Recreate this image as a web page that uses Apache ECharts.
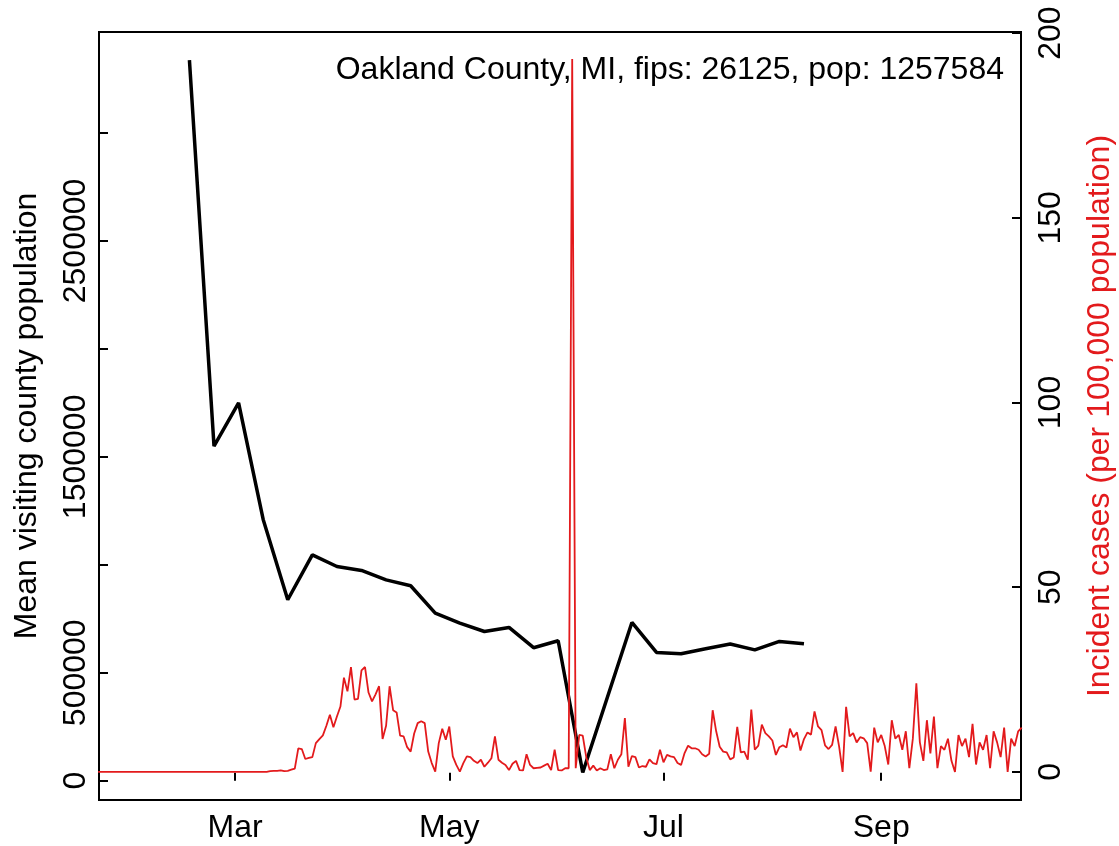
<!DOCTYPE html>
<html>
<head>
<meta charset="utf-8">
<script src="https://cdn.jsdelivr.net/npm/echarts@6/dist/echarts.min.js"></script>
<style>
  html, body { margin: 0; padding: 0; background: #fff; }
  #main { width: 1119px; height: 846px; }
</style>
</head>
<body>
<div id="main"></div>
<script>
// 每周平均来访人口 (左轴)
var visitDates = ['2020-02-17', '2020-02-24', '2020-03-02', '2020-03-09', '2020-03-16', '2020-03-23',
  '2020-03-30', '2020-04-06', '2020-04-13', '2020-04-20', '2020-04-27', '2020-05-04', '2020-05-11',
  '2020-05-18', '2020-05-25', '2020-06-01', '2020-06-08', '2020-06-22', '2020-06-29', '2020-07-06',
  '2020-07-13', '2020-07-20', '2020-07-27', '2020-08-03', '2020-08-10'];
var visitValues = [3338000, 1550000, 1750000, 1210000, 838000, 1046000,
  992000, 974000, 930000, 903000, 776000, 730000, 691000,
  710000, 616000, 648000, 38000, 733000, 594000, 588000,
  611000, 633000, 606000, 645000, 634000];

// 每日新增病例 (每10万人, 右轴), 从 2020-01-22 开始
var caseStart = '2020-01-22';
var caseValues = [
  0, 0, 0, 0, 0, 0, 0, 0, 0, 0, 0, 0, 0, 0, 0, 0, 0, 0, 0, 0,
  0, 0, 0, 0, 0, 0, 0, 0, 0, 0, 0, 0, 0, 0, 0, 0, 0, 0, 0,
  0, 0, 0, 0, 0, 0, 0, 0, 0, 0,
  0.2, 0.3, 0.3, 0.4, 0.2, 0.3, 0.6, 0.9, 6.4, 6.2,
  3.5, 3.8, 4.0, 7.8, 8.9, 9.9, 12.5, 15.5, 12.1, 15.0,
  17.7, 25.5, 21.8, 28.4, 19.6, 19.8, 27.5, 28.4, 21.5, 19.1,
  21.0, 23.2, 8.9, 12.5, 23.2, 16.7, 16.1, 9.8, 9.6, 6.7,
  5.5, 10.4, 13.2, 13.7, 13.2, 5.5, 2.4, 0.1, 7.8, 11.7,
  8.7, 12.3, 4.2, 1.9, 0.1, 2.4, 4.2, 4.0, 3.0, 2.4,
  3.3, 1.4, 2.5, 3.7, 9.6, 3.3, 2.5, 1.9, 0.5, 2.2,
  3.0, 0.5, 0.4, 4.8, 1.9, 1.0, 1.1, 1.2, 1.7, 2.2,
  0.5, 6.0, 0.5, 0.4, 1.0, 1.0, 193, 1.0, 10.0, 9.8,
  4.0, 0.5, 1.7, 0.4, 1.0, 0.5, 0.7, 4.8, 1.0, 3.3,
  4.8, 14.6, 1.4, 4.3, 4.0, 1.2, 1.6, 1.4, 3.4, 2.4,
  2.1, 6.0, 2.6, 4.6, 4.2, 4.0, 2.4, 1.9, 5.1, 7.1,
  6.4, 6.4, 6.0, 4.8, 4.2, 4.9, 16.7, 11.0, 6.8, 5.5,
  5.3, 3.4, 3.9, 12.2, 5.3, 5.5, 3.3, 16.9, 6.0, 7.1,
  12.8, 10.5, 9.6, 8.5, 4.6, 6.7, 7.2, 6.6, 11.7, 9.4,
  10.7, 5.8, 8.9, 10.7, 10.1, 16.4, 12.3, 11.3, 7.2, 6.2,
  7.3, 12.3, 6.9, 0, 17.6, 9.6, 10.5, 8.0, 9.4, 9.1,
  7.8, 0.1, 12, 8, 10, 7, 2, 14, 9, 10,
  6, 11, 1, 9, 24, 8, 3, 14, 5, 15,
  1, 7, 6, 9, 3, 0, 10, 7, 9, 4,
  13, 2, 8, 6, 10, 1, 11, 8, 4, 12,
  0, 9, 7, 11, 12
];

var monthTicks = ['2020-03-01', '2020-05-01', '2020-07-01', '2020-09-01'];
var monthLabels = ['Mar', 'May', 'Jul', 'Sep'];
var leftTicks = [0, 500000, 1000000, 1500000, 2000000, 2500000, 3000000];
var leftLabels = [0, 500000, 1500000, 2500000];
var rightTicks = [0, 50, 100, 150, 200];

var DAY = 24 * 3600 * 1000;
function toTime(s) {
  var p = s.split('-');
  return Date.UTC(+p[0], +p[1] - 1, +p[2]);
}

var visitData = visitDates.map(function (d, i) { return [toTime(d), visitValues[i]]; });
var t0 = toTime(caseStart);
var caseData = caseValues.map(function (v, i) { return [t0 + i * DAY, v]; });
var monthTimes = monthTicks.map(toTime);

var xMin = toTime('2020-01-22') + 0.25 * DAY;
var xMax = toTime('2020-10-10') + 0.8 * DAY;

var red = '#e31a1c';
var font = 'Liberation Sans, Arial, sans-serif';
var fs = 32;

var myChart = echarts.init(document.getElementById('main'));

var option = {
  animation: false,
  grid: {
    left: 99, right: 98, top: 32, bottom: 46,
    outerBoundsMode: 'none',
    show: true, borderColor: '#000', borderWidth: 2, backgroundColor: 'transparent'
  },
  xAxis: {
    type: 'value',
    min: xMin,
    max: xMax,
    axisLine: { show: false },
    splitLine: { show: false },
    axisTick: { show: true, inside: true, length: 8, customValues: monthTimes,
      lineStyle: { color: '#000', width: 2 } },
    axisLabel: {
      customValues: monthTimes,
      margin: 12,
      color: '#000', fontSize: fs, fontFamily: font,
      formatter: function (val) {
        var i = monthTimes.indexOf(val);
        return i >= 0 ? monthLabels[i] : '';
      }
    }
  },
  yAxis: [{
    type: 'value',
    position: 'left',
    min: -89400,
    max: 3467800,
    name: 'Mean visiting county population',
    nameLocation: 'middle',
    nameRotate: 90,
    nameGap: 56,
    nameTextStyle: { color: '#000', fontSize: fs, fontFamily: font },
    axisLine: { show: false },
    splitLine: { show: false },
    axisTick: { show: true, inside: true, length: 9, customValues: leftTicks,
      lineStyle: { color: '#000', width: 2 } },
    axisLabel: { customValues: leftLabels, rotate: 90, margin: 7,
      color: '#000', fontSize: fs, fontFamily: font,
      formatter: function (v) { return String(v); } }
  }, {
    type: 'value',
    position: 'right',
    min: -7.6,
    max: 200.3,
    name: 'Incident cases (per 100,000 population)',
    nameLocation: 'middle',
    nameRotate: 90,
    nameGap: 63,
    nameTextStyle: { color: red, fontSize: fs, fontFamily: font },
    axisLine: { show: false },
    splitLine: { show: false },
    axisTick: { show: true, inside: true, length: 9, customValues: rightTicks,
      lineStyle: { color: '#000', width: 2 } },
    axisLabel: { customValues: rightTicks, rotate: 90, margin: 14,
      color: '#000', fontSize: fs, fontFamily: font }
  }],
  graphic: [{
    type: 'text',
    right: 1119 - 1004,
    top: 54,
    style: {
      text: 'Oakland County, MI, fips: 26125, pop: 1257584',
      fill: '#000', fontSize: fs, fontFamily: font
    }
  }],
  series: [{
    name: 'visits',
    type: 'line',
    yAxisIndex: 0,
    data: visitData,
    showSymbol: false,
    lineStyle: { color: '#000', width: 3.5 },
    z: 2
  }, {
    name: 'cases',
    type: 'line',
    yAxisIndex: 1,
    data: caseData,
    showSymbol: false,
    lineStyle: { color: red, width: 1.8 },
    z: 3
  }]
};

myChart.setOption(option);
</script>
</body>
</html>
